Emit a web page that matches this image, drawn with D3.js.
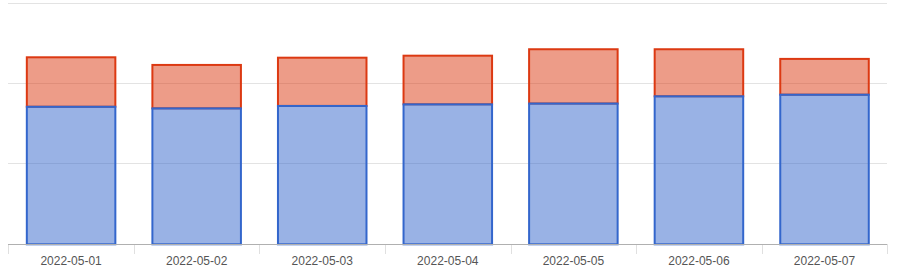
<!DOCTYPE html>
<html>
<head>
<meta charset="utf-8">
<script src="https://cdn.jsdelivr.net/npm/d3@7"></script>
<style>
  body { margin: 0; background: #fff; }
  svg { display: block; font-family: Arial, "Liberation Sans", sans-serif; }
</style>
</head>
<body>
<script>
// datos
var fechas = ["2022-05-01", "2022-05-02", "2022-05-03", "2022-05-04", "2022-05-05", "2022-05-06", "2022-05-07"];
var serie_azul = [171, 169, 172, 174, 175, 184, 186];
var serie_roja = [61.5, 54, 60, 60.5, 67.5, 58.5, 44.5];
var lineas_guia = [100, 200, 300];

var width = 909,
    height = 278;

var svg = d3.select("body").append("svg")
    .attr("width", width)
    .attr("height", height);

var x = d3.scaleBand().domain(fechas).range([8.3, 887.3]).padding(0);
var y = d3.scaleLinear().domain([0, 300]).range([244.3, 3]);

var ancho_barra = x.bandwidth() * 0.705;

// lineas de la grilla
svg.append("g").selectAll("line")
    .data(lineas_guia)
    .enter().append("line")
    .attr("x1", 8).attr("x2", 887)
    .attr("y1", function(d) { return Math.floor(y(d)) + 0.5; })
    .attr("y2", function(d) { return Math.floor(y(d)) + 0.5; })
    .attr("stroke", "#e3e3e3");

var datos = fechas.map(function(f, i) {
    return { fecha: f, azul: serie_azul[i], roja: serie_roja[i] };
});

// segmento rojo (arriba)
svg.append("g").selectAll("rect")
    .data(datos)
    .enter().append("rect")
    .attr("x", function(d) { return x(d.fecha) + (x.bandwidth() - ancho_barra) / 2; })
    .attr("width", ancho_barra)
    .attr("y", function(d) { return y(d.azul + d.roja); })
    .attr("height", function(d) { return y(d.azul) - y(d.azul + d.roja); })
    .attr("fill", "#dc3912")
    .attr("fill-opacity", 0.5)
    .attr("stroke", "#dc3912")
    .attr("stroke-width", 2);

// segmento azul (abajo)
svg.append("g").selectAll("rect")
    .data(datos)
    .enter().append("rect")
    .attr("x", function(d) { return x(d.fecha) + (x.bandwidth() - ancho_barra) / 2; })
    .attr("width", ancho_barra)
    .attr("y", function(d) { return y(d.azul); })
    .attr("height", function(d) { return y(0) - y(d.azul); })
    .attr("fill", "#3366cc")
    .attr("fill-opacity", 0.5)
    .attr("stroke", "#3366cc")
    .attr("stroke-width", 2);

// eje x
var eje = svg.append("g")
    .attr("transform", "translate(0," + 244 + ")")
    .call(d3.axisBottom(x).tickSize(0).tickPadding(12));
eje.select(".domain").remove();
eje.selectAll("text")
    .style("font-size", "12px")
    .style("font-family", "Arial, 'Liberation Sans', sans-serif")
    .attr("fill", "#555");

// marcas entre categorias
var bordes = fechas.map(function(f) { return x(f); }).concat([x(fechas[fechas.length - 1]) + x.bandwidth()]);
svg.append("g").selectAll("line")
    .data(bordes)
    .enter().append("line")
    .attr("x1", function(d) { return Math.round(d) + 0.5; })
    .attr("x2", function(d) { return Math.round(d) + 0.5; })
    .attr("y1", 244).attr("y2", 254)
    .attr("stroke", "#e0e0e0");

// linea base
svg.append("line")
    .attr("x1", 8).attr("x2", 887)
    .attr("y1", 244.5).attr("y2", 244.5)
    .attr("stroke", "#b0b0b0");
</script>
</body>
</html>
